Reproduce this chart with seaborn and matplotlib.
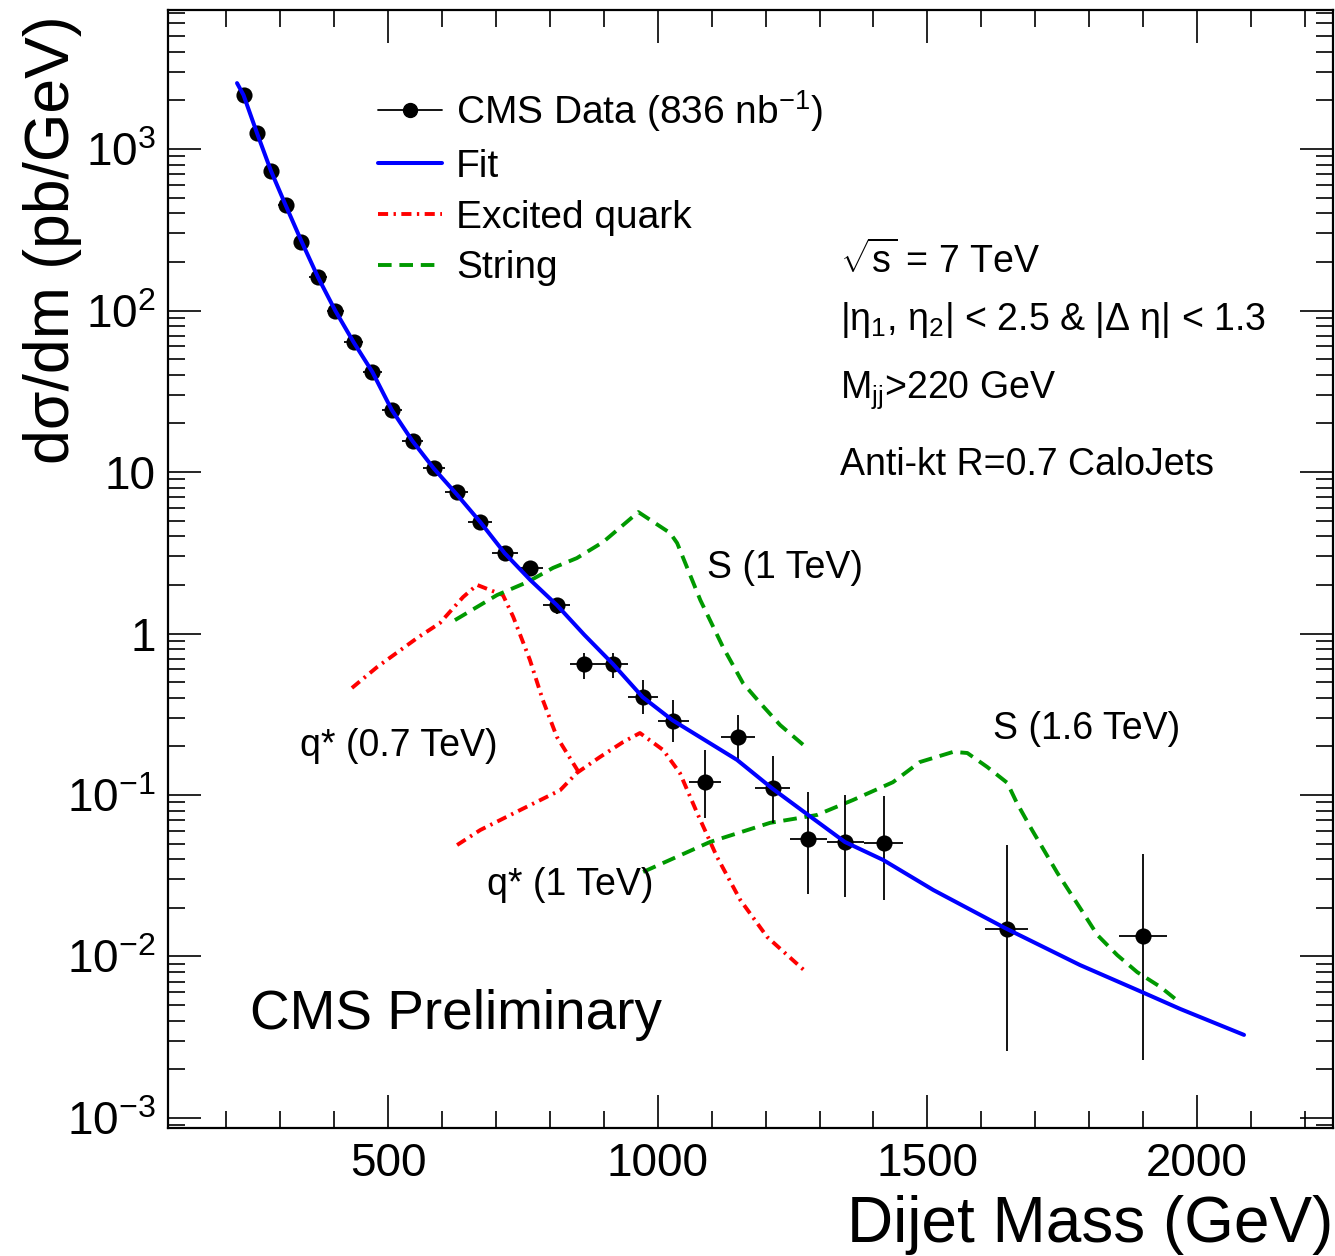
import numpy as np
import matplotlib
matplotlib.use("Agg")
import matplotlib.pyplot as plt
import seaborn as sns
from matplotlib.lines import Line2D
from matplotlib.ticker import FixedLocator, LogLocator, FuncFormatter, NullFormatter

# dijet mass bins (GeV) and measured cross section (pb/GeV)
mass_lo = [220, 244, 270, 296, 325, 354, 386, 419, 453, 489, 526, 565, 606, 649, 693,
           740, 788, 838, 890, 944, 1000, 1058, 1118, 1181, 1246, 1313, 1383, 1607, 1856]
mass_hi = [244, 270, 296, 325, 354, 386, 419, 453, 489, 526, 565, 606, 649, 693, 740,
           788, 838, 890, 944, 1000, 1058, 1118, 1181, 1246, 1313, 1383, 1455, 1687, 1945]
xsec = [2160, 1256, 731, 450, 266, 161, 100, 63.8, 41.6, 24.2, 15.6, 10.6, 7.5, 4.9, 3.15,
        2.55, 1.50, 0.647, 0.647, 0.404, 0.287, 0.120, 0.229, 0.110, 0.0535, 0.0512, 0.0505,
        0.0148, 0.0134]
err_lo = [10, 8, 6, 4.5, 3.5, 2.5, 2, 1.5, 1.1, 0.8, 0.6, 0.5, 0.4, 0.3, 0.25,
          0.2, 0.17, 0.125, 0.12, 0.088, 0.074, 0.048, 0.069, 0.043, 0.029, 0.028, 0.028,
          0.0122, 0.0111]
err_hi = [10, 8, 6, 4.5, 3.5, 2.5, 2, 1.5, 1.1, 0.8, 0.6, 0.5, 0.4, 0.3, 0.25,
          0.2, 0.17, 0.11, 0.11, 0.111, 0.10, 0.070, 0.084, 0.064, 0.051, 0.049, 0.048,
          0.034, 0.030]

# fit curve
fit_mass = [220, 232, 257, 283, 310, 340, 370, 402, 436, 471, 507, 545, 585, 627, 671,
            716, 764, 813, 864, 917, 972, 1027, 1147, 1212, 1279, 1347, 1418, 1511, 1644,
            1783, 1898, 1969, 2087]
fit_xsec = [2560, 2160, 1256, 731, 450, 266, 161, 100, 63.8, 41.6, 24.2, 15.6, 10.5, 7.3, 4.9,
            3.15, 2.14, 1.50, 0.98, 0.647, 0.404, 0.291, 0.165, 0.110, 0.0752, 0.0512, 0.0396,
            0.0258, 0.0150, 0.00885, 0.00602, 0.00473, 0.00327]

# excited quark signals
q07_mass = [433, 480, 554, 596, 639, 665, 713, 732, 763, 787, 813, 852]
q07_xsec = [0.460, 0.621, 0.938, 1.16, 1.68, 2.0, 1.73, 1.27, 0.686, 0.387, 0.229, 0.141]
q10_mass = [628, 671, 745, 819, 850, 893, 936, 967, 1010, 1041, 1073, 1110, 1153, 1203, 1277]
q10_xsec = [0.049, 0.0607, 0.0807, 0.107, 0.137, 0.172, 0.213, 0.242, 0.190, 0.137, 0.0775,
            0.0413, 0.0224, 0.0132, 0.00791]

# string signals
s10_mass = [624, 665, 702, 758, 806, 850, 899, 964, 1023, 1036, 1079, 1121, 1158, 1190, 1227, 1277]
s10_xsec = [1.21, 1.46, 1.73, 2.08, 2.55, 2.93, 3.69, 5.65, 4.19, 3.63, 1.61, 0.824, 0.493,
            0.371, 0.271, 0.195]
s16_mass = [973, 1097, 1208, 1295, 1362, 1436, 1486, 1548, 1574, 1611, 1648, 1666, 1694, 1741,
            1789, 1815, 1852, 1889, 1932, 1969]
s16_xsec = [0.0334, 0.0512, 0.0672, 0.0752, 0.0931, 0.120, 0.160, 0.185, 0.182, 0.149, 0.119,
            0.0891, 0.0607, 0.0329, 0.0186, 0.0136, 0.0102, 0.0080, 0.00648, 0.00515]

x_major = [500, 1000, 1500, 2000]
x_minor = [200, 300, 400, 600, 700, 800, 900, 1100, 1200, 1300, 1400, 1600, 1700, 1800,
           1900, 2100, 2200]
y_major = [1e-3, 1e-2, 1e-1, 1, 10, 100, 1000]

sns.set_style("ticks")
plt.rcParams['font.family'] = ['Liberation Sans', 'DejaVu Sans']
plt.rcParams['mathtext.fontset'] = 'custom'
plt.rcParams['mathtext.rm'] = 'Liberation Sans'
plt.rcParams['mathtext.it'] = 'Liberation Sans:italic'
plt.rcParams['mathtext.bf'] = 'Liberation Sans:bold'
plt.rcParams['mathtext.sf'] = 'Liberation Sans'
plt.rcParams['text.color'] = 'black'
plt.rcParams['axes.labelcolor'] = 'black'

W, H = 1335, 1256
fig = plt.figure(figsize=(W / 100, H / 100), dpi=100)
ax = fig.add_axes([168 / W, 1 - 1128 / H, (1333 - 168) / W, (1128 - 10) / H])

blue = '#0000ff'
red = '#ff0000'
green = '#009900'
dashdot = (0, (2.6, 1.4, 0.6, 1.4))
dashed = (0, (3.5, 2.0))

sns.lineplot(x=q07_mass, y=q07_xsec, color=red, lw=2.8, linestyle=dashdot, ax=ax, zorder=1)
sns.lineplot(x=q10_mass, y=q10_xsec, color=red, lw=2.8, linestyle=dashdot, ax=ax, zorder=1)
sns.lineplot(x=s10_mass, y=s10_xsec, color=green, lw=2.8, linestyle=dashed, ax=ax, zorder=1)
sns.lineplot(x=s16_mass, y=s16_xsec, color=green, lw=2.8, linestyle=dashed, ax=ax, zorder=1)

mass_c = [(a + b) / 2 for a, b in zip(mass_lo, mass_hi)]
half_w = [(b - a) / 2 for a, b in zip(mass_lo, mass_hi)]
ax.errorbar(mass_c, xsec, xerr=half_w, yerr=[err_lo, err_hi], fmt='none',
            ecolor='black', elinewidth=1.3, capsize=0, zorder=2)
sns.scatterplot(x=mass_c, y=xsec, color='black', s=135, linewidth=0, ax=ax, zorder=3)

sns.lineplot(x=fit_mass, y=fit_xsec, color=blue, lw=2.9, ax=ax, zorder=4)

ax.set_yscale('log')
ax.set_xlim(92, 2252)
ax.set_ylim(8.67e-4, 7260)

ax.xaxis.set_major_locator(FixedLocator(x_major))
ax.xaxis.set_minor_locator(FixedLocator(x_minor))
ax.yaxis.set_major_locator(FixedLocator(y_major))
ax.yaxis.set_minor_locator(LogLocator(base=10, subs=np.arange(2, 10), numticks=20))
ax.yaxis.set_minor_formatter(NullFormatter())


def ylab(v, pos):
    e = int(round(np.log10(v)))
    if e == 0:
        return '1'
    if e == 1:
        return '10'
    return '10$^{%d}$' % e


ax.yaxis.set_major_formatter(FuncFormatter(ylab))
ax.tick_params(which='both', direction='in', top=True, right=True, width=1.2,
               labelsize=33, colors='black')
ax.tick_params(which='major', length=24)
ax.tick_params(which='minor', length=12)
ax.tick_params(axis='x', which='major', pad=10)
ax.tick_params(axis='y', which='major', pad=9)
for sp in ax.spines.values():
    sp.set_linewidth(1.6)
    sp.set_color('black')

ax.set_xlabel('Dijet Mass (GeV)', fontsize=46, loc='right', color='black')
ax.xaxis.set_label_coords(1.0, -0.06)
ax.set_ylabel('dσ/dm (pb/GeV)', fontsize=45, loc='top', color='black')
ax.yaxis.set_label_coords(-0.074, 0.995)

handles = [
    Line2D([], [], color='black', lw=1.3, marker='o', markersize=10),
    Line2D([], [], color=blue, lw=2.9),
    Line2D([], [], color=red, lw=2.8, linestyle=dashdot),
    Line2D([], [], color=green, lw=2.8, linestyle=dashed),
]
labels = ['CMS Data (836 nb$^{-1}$)', 'Fit', 'Excited quark', 'String']
leg = ax.legend(handles, labels, loc='upper left', bbox_to_anchor=(0.180, 0.93),
                frameon=False, fontsize=28, handlelength=1.65, handletextpad=0.36,
                labelspacing=0.38, borderpad=0, borderaxespad=0)
for t in leg.get_texts():
    t.set_color('black')


def put(x, y, s, size=27, **kw):
    fig.text(x / W, 1 - y / H, s, fontsize=size, color='black', **kw)


put(840, 273, r'$\sqrt{\mathrm{s}}$ = 7 TeV', va='baseline')
put(840, 330, '|η$_{1}$, η$_{2}$| < 2.5 & |Δ η| < 1.3', va='baseline')
put(840, 398, r'M$_{\mathrm{jj}}$>220 GeV', va='baseline')
put(840, 475, 'Anti-kt R=0.7 CaloJets', va='baseline')
put(707, 568, 'S (1 TeV)', va='center')
put(300, 746, 'q* (0.7 TeV)', va='center')
put(487, 885, 'q* (1 TeV)', va='center')
put(993, 729, 'S (1.6 TeV)', va='center')
put(250, 1015, 'CMS Preliminary', size=39.5, va='center')

fig.savefig('out.png', dpi=100)
